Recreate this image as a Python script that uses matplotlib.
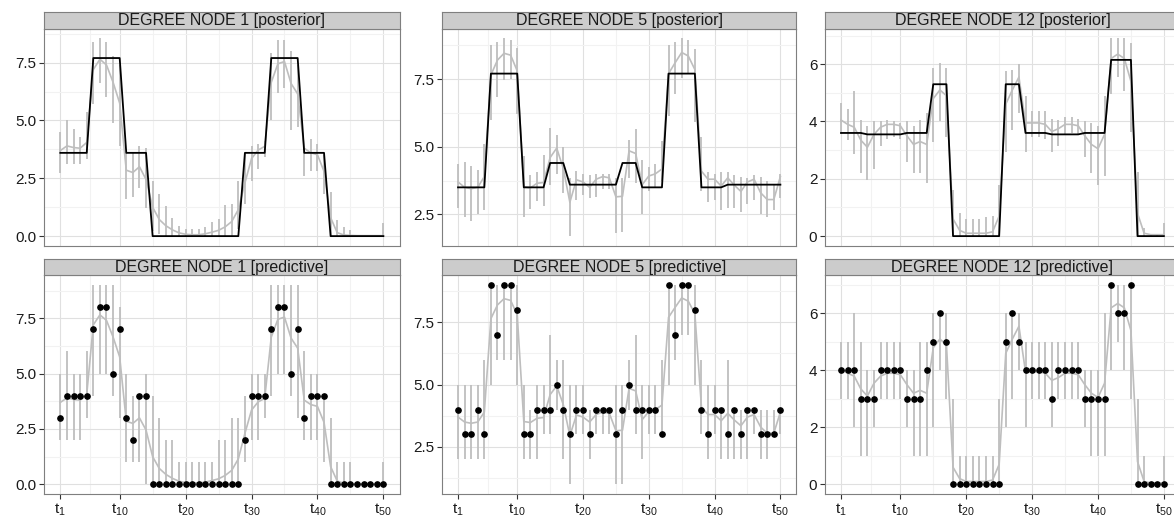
import numpy as np
import matplotlib.pyplot as plt
from matplotlib.ticker import FixedLocator

plt.rcParams['font.family'] = ['Liberation Sans', 'DejaVu Sans']
plt.rcParams['mathtext.fontset'] = 'custom'
plt.rcParams['mathtext.rm'] = 'Liberation Sans'
plt.rcParams['mathtext.it'] = 'Liberation Sans:italic'

t = np.arange(1, 51)
x_breaks = [1, 10, 20, 30, 40, 50]
x_labels = [r'$\mathregular{t_{%d}}$' % b for b in x_breaks]

# ---- node 1 ----
n1_mean = [3.7, 3.9, 3.83, 3.8, 4.05, 7.2, 7.65, 7.4, 6.65, 5.75,
           2.85, 2.75, 3.0, 2.45, 1.25, 0.72, 0.45, 0.27, 0.14, 0.08,
           0.06, 0.06, 0.1, 0.17, 0.25, 0.4, 0.63, 1.15, 2.3, 3.35,
           3.72, 3.88, 6.65, 7.45, 7.55, 6.6, 6.15, 3.8, 3.6, 3.52,
           2.8, 0.8, 0.15, 0.05, 0.03, 0.02, 0.02, 0.02, 0.02, 0.02]
n1_post_lo = [2.75, 3.1, 3.1, 3.1, 3.35, 5.7, 6.6, 6.0, 4.9, 3.9,
              1.6, 1.7, 2.1, 1.2, 0.2, 0.1, 0.0, 0.0, 0.0, 0.0,
              0.0, 0.0, 0.0, 0.0, 0.0, 0.0, 0.0, 0.3, 1.4, 2.4,
              2.9, 3.4, 5.0, 6.2, 6.4, 4.6, 4.7, 2.6, 2.8, 2.8,
              1.8, 0.0, 0.0, 0.0, 0.0, 0.0, 0.0, 0.0, 0.0, 0.0]
n1_post_hi = [4.5, 5.0, 4.65, 4.3, 5.35, 8.4, 8.55, 8.4, 7.8, 7.4,
              3.6, 3.6, 3.9, 3.8, 2.4, 1.8, 1.3, 0.8, 0.45, 0.3,
              0.3, 0.3, 0.4, 0.6, 0.75, 1.35, 1.4, 2.4, 3.6, 3.9,
              4.0, 4.1, 7.9, 8.5, 8.5, 8.0, 7.4, 3.8, 4.2, 4.0,
              3.5, 1.9, 0.7, 0.4, 0.25, 0.05, 0.05, 0.05, 0.05, 0.55]
n1_true = [3.6, 3.6, 3.6, 3.6, 3.6, 7.7, 7.7, 7.7, 7.7, 7.7,
           3.6, 3.6, 3.6, 3.6, 0, 0, 0, 0, 0, 0,
           0, 0, 0, 0, 0, 0, 0, 0, 3.6, 3.6,
           3.6, 3.6, 7.7, 7.7, 7.7, 7.7, 7.7, 3.6, 3.6, 3.6,
           3.6, 0, 0, 0, 0, 0, 0, 0, 0, 0]
n1_obs = [3, 4, 4, 4, 4, 7, 8, 8, 5, 7,
          3, 2, 4, 4, 0, 0, 0, 0, 0, 0,
          0, 0, 0, 0, 0, 0, 0, 0, 2, 4,
          4, 4, 7, 8, 8, 5, 7, 3, 4, 4,
          4, 0, 0, 0, 0, 0, 0, 0, 0, 0]
n1_pred_lo = [2, 2, 2, 2, 3, 4, 5, 5, 4, 3,
              1, 1, 1, 0, 0, 0, 0, 0, 0, 0,
              0, 0, 0, 0, 0, 0, 0, 0, 1, 2,
              2, 3, 4, 5, 5, 4, 3, 2, 2, 2,
              1, 0, 0, 0, 0, 0, 0, 0, 0, 0]
n1_pred_hi = [5, 6, 5, 5, 6, 9, 9, 9, 9, 8,
              5, 4, 4, 5, 4, 3, 2, 2, 1, 1,
              1, 1, 1, 1, 2, 2, 3, 3, 4, 5,
              5, 5, 9, 9, 9, 9, 9, 6, 5, 5,
              4, 3, 1, 1, 1, 0, 0, 0, 0, 1]

# ---- node 5 ----
n5_mean = [3.7, 3.5, 3.45, 3.5, 3.9, 7.65, 8.2, 8.45, 8.38, 7.8,
           3.52, 3.48, 3.65, 3.68, 4.6, 4.95, 4.2, 2.95, 3.78, 3.7,
           3.5, 3.8, 3.9, 3.85, 3.15, 3.17, 4.85, 4.75, 3.6, 3.92,
           4.0, 4.18, 7.7, 8.1, 8.48, 8.35, 7.85, 4.1, 3.8, 3.8,
           3.55, 3.85, 3.58, 3.35, 3.7, 3.8, 3.3, 3.05, 3.05, 3.9]
n5_post_lo = [2.75, 2.4, 2.25, 2.5, 2.65, 6.0, 6.85, 7.45, 7.5, 6.2,
              2.4, 2.7, 3.0, 2.8, 3.6, 4.0, 3.3, 1.7, 3.05, 3.2,
              3.1, 3.15, 3.45, 3.45, 1.8, 1.85, 3.85, 3.65, 2.5, 3.35,
              3.5, 3.75, 6.15, 6.95, 7.55, 7.7, 5.9, 3.35, 2.95, 3.05,
              2.65, 2.75, 2.75, 2.6, 2.9, 3.05, 2.5, 2.4, 2.65, 3.1]
n5_post_hi = [4.35, 4.45, 4.3, 4.15, 5.1, 8.75, 8.85, 9.0, 8.95, 8.65,
              4.65, 3.95, 4.05, 4.7, 5.7, 5.45, 5.0, 3.85, 4.1, 4.0,
              3.95, 4.0, 4.0, 4.0, 3.85, 3.85, 5.25, 5.65, 4.5, 4.25,
              4.35, 5.2, 8.75, 8.85, 9.0, 8.95, 8.6, 5.35, 4.05, 4.0,
              4.05, 4.05, 3.95, 3.9, 3.85, 3.95, 3.9, 3.75, 3.6, 4.0]
n5_true = [3.5, 3.5, 3.5, 3.5, 3.5, 7.7, 7.7, 7.7, 7.7, 7.7,
           3.5, 3.5, 3.5, 3.5, 4.4, 4.4, 4.4, 3.6, 3.6, 3.6,
           3.6, 3.6, 3.6, 3.6, 3.6, 4.4, 4.4, 4.4, 3.5, 3.5,
           3.5, 3.5, 7.7, 7.7, 7.7, 7.7, 7.7, 3.5, 3.5, 3.5,
           3.5, 3.6, 3.6, 3.6, 3.6, 3.6, 3.6, 3.6, 3.6, 3.6]
n5_obs = [4, 3, 3, 4, 3, 9, 7, 9, 9, 8,
          3, 3, 4, 4, 4, 5, 4, 3, 4, 4,
          3, 4, 4, 4, 3, 4, 5, 4, 4, 4,
          4, 3, 9, 7, 9, 9, 8, 4, 3, 4,
          4, 3, 4, 3, 4, 4, 3, 3, 3, 4]
n5_pred_lo = [2, 2, 2, 2, 2, 5, 6, 6, 6, 5,
              2, 2, 2, 3, 3, 4, 2, 1, 3, 3,
              2, 3, 3, 3, 1, 1, 4, 3, 2, 3,
              3, 3, 5, 6, 7, 7, 5, 3, 2, 3,
              2, 2, 2, 2, 2, 3, 2, 2, 3, 3]
n5_pred_hi = [5, 5, 5, 5, 6, 9, 9, 9, 9, 9,
              5, 4, 5, 5, 7, 6, 6, 5, 5, 5,
              4, 4, 4, 4, 5, 5, 6, 7, 5, 5,
              5, 6, 9, 9, 9, 9, 9, 6, 5, 5,
              4, 6, 4, 4, 4, 4, 4, 4, 4, 4]

# ---- node 12 ----
n12_mean = [4.05, 3.9, 3.8, 3.35, 3.1, 3.55, 3.8, 3.9, 3.9, 3.85,
            3.5, 3.2, 3.3, 3.2, 4.8, 5.1, 4.9, 0.6, 0.2, 0.1,
            0.1, 0.1, 0.1, 0.15, 0.7, 4.6, 5.1, 5.55, 3.95, 3.95,
            3.95, 3.9, 3.65, 3.75, 3.9, 3.9, 3.85, 3.5, 3.2, 3.05,
            3.55, 6.2, 6.35, 6.2, 5.4, 0.8, 0.1, 0.05, 0.05, 0.05]
n12_post_lo = [3.55, 3.35, 2.85, 2.2, 1.95, 2.35, 3.15, 3.4, 3.45, 3.4,
               2.6, 2.2, 2.2, 1.85, 3.3, 4.0, 3.45, 0.0, 0.0, 0.0,
               0.0, 0.0, 0.0, 0.0, 0.0, 2.95, 3.7, 4.3, 2.95, 3.45,
               3.45, 3.4, 2.95, 3.15, 3.55, 3.6, 3.55, 2.75, 2.2, 1.8,
               2.1, 4.95, 5.55, 5.05, 3.65, 0.0, 0.0, 0.0, 0.0, 0.0]
n12_post_hi = [4.65, 4.45, 5.05, 4.05, 3.85, 4.0, 4.0, 4.05, 4.0, 3.95,
               4.0, 3.85, 4.05, 4.3, 5.85, 6.05, 5.85, 1.6, 0.8, 0.6,
               0.6, 0.6, 0.65, 0.7, 1.8, 5.75, 5.8, 6.0, 4.9, 4.35,
               4.35, 4.35, 4.1, 4.05, 4.15, 4.15, 4.1, 4.0, 3.95, 3.85,
               4.9, 6.9, 6.9, 6.9, 6.75, 2.25, 0.3, 0.05, 0.05, 0.45]
n12_true = [3.6, 3.6, 3.6, 3.6, 3.55, 3.55, 3.55, 3.55, 3.55, 3.55,
            3.6, 3.6, 3.6, 3.6, 5.3, 5.3, 5.3, 0, 0, 0,
            0, 0, 0, 0, 0, 5.3, 5.3, 5.3, 3.6, 3.6,
            3.6, 3.6, 3.55, 3.55, 3.55, 3.55, 3.55, 3.6, 3.6, 3.6,
            3.6, 6.15, 6.15, 6.15, 6.15, 0, 0, 0, 0, 0]
n12_obs = [4, 4, 4, 3, 3, 3, 4, 4, 4, 4,
           3, 3, 3, 4, 5, 6, 5, 0, 0, 0,
           0, 0, 0, 0, 0, 5, 6, 5, 4, 4,
           4, 4, 3, 4, 4, 4, 4, 3, 3, 3,
           3, 7, 6, 6, 7, 0, 0, 0, 0, 0]
n12_pred_lo = [3, 3, 2, 1, 1, 2, 3, 3, 3, 3,
               2, 1, 1, 1, 2, 4, 3, 0, 0, 0,
               0, 0, 0, 0, 0, 2, 3, 4, 2, 3,
               3, 3, 2, 3, 3, 3, 3, 2, 1, 1,
               1, 4, 5, 4, 3, 0, 0, 0, 0, 0]
n12_pred_hi = [5, 5, 6, 5, 4, 4, 5, 5, 5, 5,
               4, 4, 5, 5, 6, 6, 6, 3, 1, 1,
               1, 1, 1, 1, 3, 6, 6, 6, 5, 5,
               5, 5, 5, 5, 5, 5, 5, 4, 4, 4,
               6, 7, 7, 7, 7, 3, 1, 0, 0, 1]

node_names = ['1', '5', '12']
node_data = [
    (n1_mean, n1_post_lo, n1_post_hi, n1_true, n1_obs, n1_pred_lo, n1_pred_hi),
    (n5_mean, n5_post_lo, n5_post_hi, n5_true, n5_obs, n5_pred_lo, n5_pred_hi),
    (n12_mean, n12_post_lo, n12_post_hi, n12_true, n12_obs, n12_pred_lo, n12_pred_hi),
]
y_major = [[0, 2.5, 5, 7.5], [0, 2.5, 5, 7.5], [0, 2, 4, 6]]
y_minor = [[1.25, 3.75, 6.25, 8.75], [1.25, 3.75, 6.25, 8.75], [1, 3, 5, 7]]
y_fmt = ['%.1f', '%.1f', '%d']

W, H = 1174, 525
fig = plt.figure(figsize=(W / 100, H / 100), dpi=100)


def px_axes(x0, y0, x1, y1):
    return fig.add_axes([x0 / W, 1 - y1 / H, (x1 - x0) / W, (y1 - y0) / H])


col_x = [(44.2, 399.5), (441.9, 796.5), (824.9, 1180.0)]
row_y = [(28.5, 246.0), (275.0, 494.3)]
strip_h = 16.5
grey = '#BEBEBE'
border = '#7F7F7F'

for c in range(3):
    mean, plo, phi, true, obs, qlo, qhi = node_data[c]
    for r in range(2):
        x0, x1 = col_x[c]
        y0, y1 = row_y[r]
        ax = px_axes(x0, y0, x1, y1)
        if r == 0:
            ax.vlines(t, plo, phi, color=grey, lw=1.3, zorder=2)
            ax.plot(t, mean, color=grey, lw=1.2, zorder=3)
            ax.plot(t, true, color='black', lw=1.3, zorder=4)
            title = 'DEGREE NODE %s [posterior]' % node_names[c]
        else:
            ax.vlines(t, qlo, qhi, color=grey, lw=1.3, zorder=2)
            ax.plot(t, mean, color=grey, lw=1.2, zorder=3)
            ax.plot(t, obs, 'o', color='black', ms=3.8, zorder=4)
            title = 'DEGREE NODE %s [predictive]' % node_names[c]

        ax.set_xlim(-1.45, 52.45)
        ax.xaxis.set_major_locator(FixedLocator(x_breaks))
        ax.xaxis.set_minor_locator(FixedLocator([5.5, 15, 25, 35, 45]))
        ax.yaxis.set_major_locator(FixedLocator(y_major[c]))
        ax.yaxis.set_minor_locator(FixedLocator(y_minor[c]))
        ax.set_yticklabels([y_fmt[c] % v for v in y_major[c]])
        if r == 1:
            ax.set_xticklabels(x_labels)
            ax.tick_params(axis='x', length=3.5, width=0.8, color='#333333',
                           labelsize=11, labelcolor='#1A1A1A', pad=2)
        else:
            ax.tick_params(axis='x', length=0, labelbottom=False)
        ax.tick_params(axis='y', length=3.5, width=0.8, color='#333333',
                       labelsize=11, labelcolor='#1A1A1A', pad=2)
        ax.tick_params(which='minor', length=0)
        ax.grid(which='major', color='#E0E0E0', lw=0.8)
        ax.grid(which='minor', color='#F2F2F2', lw=0.8)
        ax.set_axisbelow(True)
        for s in ax.spines.values():
            s.set_color(border)
            s.set_linewidth(0.8)

        sax = px_axes(x0, y0 - strip_h, x1, y0)
        sax.set_facecolor('#CCCCCC')
        sax.set_xticks([])
        sax.set_yticks([])
        for s in sax.spines.values():
            s.set_color(border)
            s.set_linewidth(0.8)
        sax.text(0.5, 0.48, title, ha='center', va='center', fontsize=11.5,
                 color='#1A1A1A', transform=sax.transAxes)

fig.savefig('out.png', dpi=100)
